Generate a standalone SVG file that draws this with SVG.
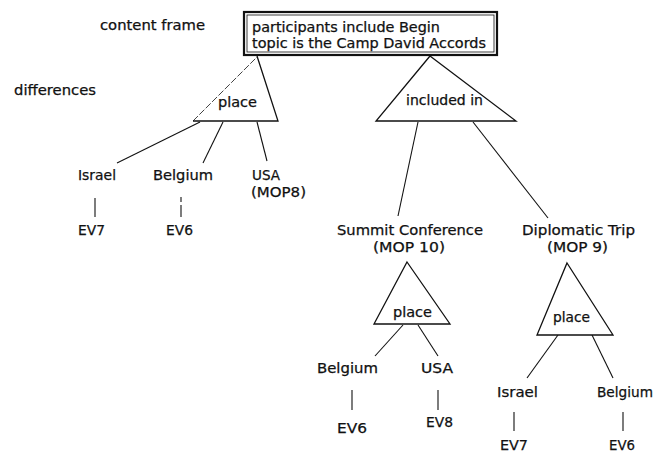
<svg xmlns="http://www.w3.org/2000/svg" width="657" height="452" viewBox="0 0 657 452">
<style>
text{font-family:"DejaVu Sans","Liberation Sans",sans-serif;font-size:13.5px;fill:#111;stroke:#111;stroke-width:0.25}
.ln{stroke:#111;stroke-width:1.1;fill:none}
.tri{stroke:#111;stroke-width:1.3;fill:#fff;stroke-linejoin:miter}
.dash{stroke:#111;stroke-width:0.8;fill:none;stroke-dasharray:7 2}
</style>
<rect width="657" height="452" fill="#fff"/>
<g id="labels">
<text x="100" y="30" textLength="105" lengthAdjust="spacingAndGlyphs">content frame</text>
<text x="14" y="95" textLength="82" lengthAdjust="spacingAndGlyphs">differences</text>
</g>
<g id="connectors">
<line class="ln" x1="200" y1="122" x2="117" y2="163"/>
<line class="ln" x1="223" y1="122" x2="203" y2="163"/>
<line class="ln" x1="257" y1="122" x2="267" y2="161"/>
<line class="ln" x1="95" y1="198" x2="95" y2="217"/>
<line class="ln" x1="181" y1="197" x2="181" y2="202"/>
<line class="ln" x1="181" y1="205" x2="181" y2="217"/>
<line class="ln" x1="418" y1="122" x2="398" y2="216"/>
<line class="ln" x1="473" y1="122" x2="548" y2="218"/>
<line class="ln" x1="403" y1="325" x2="375" y2="356"/>
<line class="ln" x1="418" y1="325" x2="438" y2="356"/>
<line class="ln" x1="352" y1="390" x2="352" y2="410"/>
<line class="ln" x1="438" y1="390" x2="438" y2="410"/>
<line class="ln" x1="558" y1="335" x2="527" y2="378"/>
<line class="ln" x1="592" y1="335" x2="613" y2="378"/>
<line class="ln" x1="514" y1="412" x2="514" y2="431"/>
<line class="ln" x1="623" y1="412" x2="623" y2="431"/>
</g>
<g id="content-frame">
<rect x="244" y="12" width="253" height="43" fill="#fff" stroke="#111" stroke-width="2.2"/>
<rect x="247" y="15" width="247" height="37" fill="none" stroke="#111" stroke-width="0.8"/>
<text x="252" y="32" textLength="188" lengthAdjust="spacingAndGlyphs">participants include Begin</text>
<text x="252" y="48" textLength="234" lengthAdjust="spacingAndGlyphs">topic is the Camp David Accords</text>
</g>
<g id="place-1">
<polyline class="tri" points="257,56 278,121 193,121" fill="none"/>
<line class="dash" x1="193" y1="121" x2="257" y2="57"/>
<text x="218" y="107" textLength="39" lengthAdjust="spacingAndGlyphs">place</text>
</g>
<g id="israel-1"><text x="78" y="180" textLength="38" lengthAdjust="spacingAndGlyphs">Israel</text></g>
<g id="belgium-1"><text x="153" y="180" textLength="60" lengthAdjust="spacingAndGlyphs">Belgium</text></g>
<g id="usa-1">
<text x="252" y="180" textLength="28" lengthAdjust="spacingAndGlyphs">USA</text>
<text x="251" y="197" textLength="55" lengthAdjust="spacingAndGlyphs">(MOP8)</text>
</g>
<g id="ev7-1"><text x="78" y="235" textLength="27" lengthAdjust="spacingAndGlyphs">EV7</text></g>
<g id="ev6-1"><text x="166" y="235" textLength="27" lengthAdjust="spacingAndGlyphs">EV6</text></g>
<g id="included-in">
<polygon class="tri" points="430,56 516,121 376,121"/>
<text x="406" y="105" textLength="77" lengthAdjust="spacingAndGlyphs">included in</text>
</g>
<g id="summit">
<text x="337" y="235" textLength="146" lengthAdjust="spacingAndGlyphs">Summit Conference</text>
<text x="373" y="252" textLength="72" lengthAdjust="spacingAndGlyphs">(MOP 10)</text>
</g>
<g id="diplomatic">
<text x="522" y="235" textLength="113" lengthAdjust="spacingAndGlyphs">Diplomatic Trip</text>
<text x="547" y="252" textLength="61" lengthAdjust="spacingAndGlyphs">(MOP 9)</text>
</g>
<g id="place-2">
<polygon class="tri" points="407,262 450,324 374,324"/>
<text x="393" y="317" textLength="39" lengthAdjust="spacingAndGlyphs">place</text>
</g>
<g id="belgium-2"><text x="317" y="373" textLength="61" lengthAdjust="spacingAndGlyphs">Belgium</text></g>
<g id="usa-2"><text x="421" y="373" textLength="32" lengthAdjust="spacingAndGlyphs">USA</text></g>
<g id="ev6-2"><text x="337" y="433" textLength="30" lengthAdjust="spacingAndGlyphs">EV6</text></g>
<g id="ev8-2"><text x="426" y="427" textLength="27" lengthAdjust="spacingAndGlyphs">EV8</text></g>
<g id="place-3">
<polygon class="tri" points="567,263 613,335 537,335"/>
<text x="553" y="322" textLength="37" lengthAdjust="spacingAndGlyphs">place</text>
</g>
<g id="israel-3"><text x="497" y="397" textLength="41" lengthAdjust="spacingAndGlyphs">Israel</text></g>
<g id="belgium-3"><text x="597" y="397" textLength="56" lengthAdjust="spacingAndGlyphs">Belgium</text></g>
<g id="ev7-3"><text x="500" y="450" textLength="28" lengthAdjust="spacingAndGlyphs">EV7</text></g>
<g id="ev6-3"><text x="609" y="450" textLength="26" lengthAdjust="spacingAndGlyphs">EV6</text></g>
</svg>
